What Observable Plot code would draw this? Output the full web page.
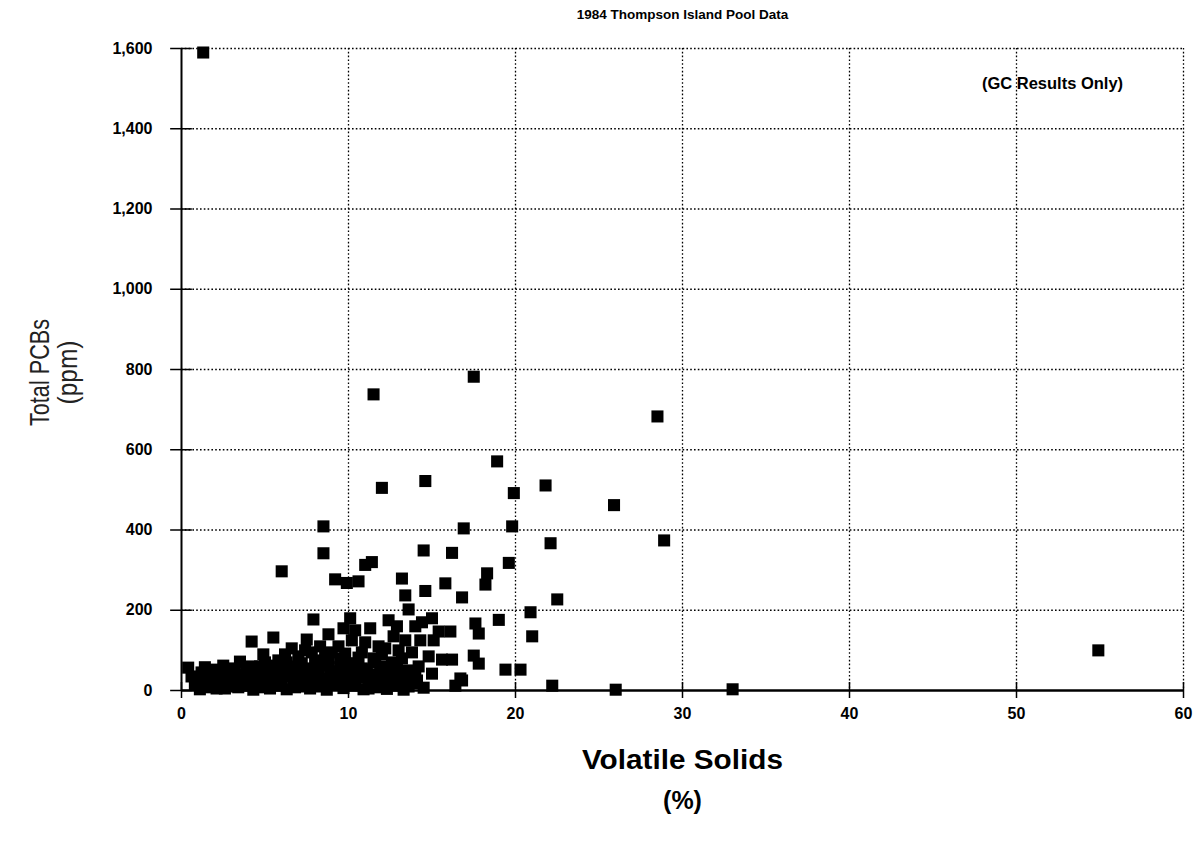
<!DOCTYPE html>
<html>
<head>
<meta charset="utf-8">
<script src="https://cdn.jsdelivr.net/npm/d3@7"></script>
<script src="https://cdn.jsdelivr.net/npm/@observablehq/plot@0.6"></script>
<style>
  html, body { margin: 0; padding: 0; background: #fff; }
</style>
</head>
<body>
<div id="chart"></div>
<script>
// Volatile solids (%) and total PCBs (ppm)
const volatileSolids = [
  1.3, 11.5, 17.5, 28.5, 18.9, 12.0, 14.6, 19.9, 21.8, 25.9, 8.5, 16.9, 19.8, 8.5, 14.5, 16.2, 22.1, 28.9, 19.6, 6.0,
  11.0, 11.4, 18.3, 13.2, 9.2, 9.9, 10.6, 15.8, 18.2, 14.6, 13.4, 16.8, 22.5, 13.6, 20.9, 19.0, 17.6, 17.8, 21.0, 19.4,
  20.3, 22.2, 26.0, 33.0, 54.9,
  7.9, 10.1, 9.7, 10.4, 10.2, 5.5, 4.2, 4.9, 7.5, 6.6, 12.4, 12.9, 14.0, 14.4, 15.0, 15.4, 16.1, 14.3, 15.1, 12.7,
  11.3, 11.8, 8.8, 8.3, 9.0, 7.0, 6.3, 10.8, 12.0, 13.0, 11.5, 8.0, 9.5, 15.6, 14.8, 17.5, 17.8, 16.2,
  0.4, 0.8, 1.1, 1.2, 1.5, 1.7, 2.0, 2.2, 2.5, 2.6, 2.8, 3.0, 3.2, 3.4, 3.6,
  3.9, 4.1, 4.3, 4.5, 4.7, 4.9, 5.1, 5.3, 5.5, 5.7, 5.9,
  6.1, 6.3, 6.5, 6.7, 6.9, 7.1, 7.3, 7.5, 7.7, 7.9,
  8.1, 8.3, 8.5, 8.7, 8.9, 9.1, 9.3, 9.5, 9.7, 9.9,
  10.1, 10.3, 10.5, 10.7, 10.9, 11.1, 11.3, 11.5, 11.7, 11.9,
  12.1, 12.3, 12.5, 12.7, 12.9, 13.1, 13.3, 13.5, 13.7, 13.9,
  14.5, 15.0, 16.4, 16.8, 16.7,
  0.6, 1.0, 1.4, 1.9, 2.3, 2.9, 3.3, 3.7, 4.0, 4.4, 4.8, 5.2, 5.6, 6.0, 6.4, 6.8, 7.2, 7.6, 8.0, 8.4,
  8.8, 9.2, 9.6, 10.0, 10.4, 10.8, 11.2, 11.6, 12.0, 12.4, 12.8, 13.2, 13.6, 14.0, 14.2,
  6.2, 7.4, 8.6, 9.4, 10.6, 11.0, 12.2, 12.6, 13.4, 13.8, 7.8, 9.8, 5.8, 5.0, 3.5,
  0.9, 1.6, 2.4, 3.1, 3.8, 4.6, 5.4, 6.6, 7.0, 8.2, 9.0, 10.2, 11.4, 12.6, 13.0,
  2.1, 2.7, 4.2, 5.0, 6.0, 7.8, 9.6, 10.9, 11.8, 13.3, 14.1, 1.8
];
const totalPCBs = [
  1590, 738, 782, 683, 571, 505, 522, 492, 511, 462, 409, 404, 409, 342, 349, 343, 367, 374, 318, 297,
  313, 320, 292, 279, 277, 268, 272, 267, 264, 248, 237, 232, 227, 202, 195, 176, 167, 142, 135, 52,
  52, 12, 2, 3, 100,
  177, 180, 155, 150, 125, 132, 122, 90, 127, 105, 175, 160, 160, 170, 180, 147, 147, 125, 125, 135,
  155, 110, 140, 110, 95, 85, 70, 95, 90, 100, 80, 75, 80, 77, 85, 87, 67, 77,
  57, 15, 3, 45, 25, 8, 35, 15, 62, 5, 42, 22, 55, 8, 30,
  48, 12, 2, 35, 60, 20, 45, 5, 28, 52, 12,
  38, 3, 60, 22, 45, 10, 30, 55, 5, 40,
  18, 62, 30, 2, 48, 14, 35, 58, 6, 25,
  45, 12, 65, 32, 3, 52, 20, 40, 8, 60,
  28, 4, 45, 15, 65, 35, 2, 50, 32, 18,
  7, 42, 12, 25, 30,
  35, 28, 58, 52, 45, 10, 38, 15, 28, 50, 8, 62, 40, 18, 48, 8, 68, 20, 50, 10,
  72, 28, 45, 68, 30, 55, 5, 70, 48, 22, 52, 80, 10, 40, 60,
  90, 100, 85, 110, 82, 120, 105, 70, 125, 95, 95, 92, 75, 70, 72,
  18, 40, 28, 48, 22, 18, 25, 35, 15, 35, 42, 22, 30, 30, 12,
  5, 30, 60, 38, 60, 28, 18, 42, 25, 20, 25, 20
];
const xTicks = [0, 10, 20, 30, 40, 50, 60];
const yTicks = [0, 200, 400, 600, 800, 1000, 1200, 1400, 1600];

const title = "1984 Thompson Island Pool Data";
const note = "(GC Results Only)";
const xLabel = ["Volatile Solids", "(%)"];
const yLabel = ["Total PCBs", "(ppm)"];

const data = volatileSolids.map((v, i) => ({vs: v, pcb: totalPCBs[i]}));
const fmt = d3.format(",");
const dotted = {stroke: "black", strokeOpacity: 1, strokeWidth: 1.3, strokeDasharray: "1.6,2.2"};

const chart = Plot.plot({
  width: 1198,
  height: 844,
  marginLeft: 181,
  marginRight: 15,
  marginTop: 48,
  marginBottom: 154,
  x: {domain: [0, 60]},
  y: {domain: [0, 1600]},
  style: {fontFamily: "'Liberation Sans', Arial, sans-serif", background: "white", color: "black", overflow: "visible"},
  marks: [
    Plot.gridX(xTicks.filter(d => d > 0), dotted),
    Plot.gridY(yTicks.filter(d => d > 0), dotted),
    Plot.ruleY([0], {stroke: "black", strokeWidth: 2.6}),
    Plot.ruleX([0], {stroke: "black", strokeWidth: 2}),
    Plot.ruleX(xTicks, {x: d => d, y1: -20, y2: 20, stroke: "black", strokeWidth: 1.5}),
    Plot.ruleY(yTicks, {y: d => d, x1: -0.65, x2: 0.65, stroke: "black", strokeWidth: 1.5}),
    Plot.axisX(xTicks, {tickSize: 0, tickPadding: 17, fontSize: 16, fontWeight: "bold", label: null}),
    Plot.axisY(yTicks, {tickSize: 0, tickPadding: 29, fontSize: 16, fontWeight: "bold", tickFormat: fmt, label: null}),
    Plot.dot(data, {x: "vs", y: "pcb", symbol: "square", r: 6.8, fill: "black", stroke: "none"}),
    Plot.text([title], {frameAnchor: "top", dy: -34, fontSize: 13.5, fontWeight: "bold", lineAnchor: "middle"}),
    Plot.text([note], {frameAnchor: "top-right", textAnchor: "middle", dx: -131, dy: 35, fontSize: 16.5, fontWeight: "bold", lineAnchor: "middle"}),
    Plot.text([xLabel[0]], {frameAnchor: "bottom", dy: 70, fontSize: 28, fontWeight: "bold", lineAnchor: "middle", className: "xlab0"}),
    Plot.text([xLabel[1]], {frameAnchor: "bottom", dy: 110, fontSize: 25, fontWeight: "bold", lineAnchor: "middle"}),
    Plot.text([yLabel[0]], {frameAnchor: "left", textAnchor: "middle", dx: -141, dy: 3, rotate: -90, fontSize: 28, fill: "#222", lineAnchor: "middle", className: "ylab0"}),
    Plot.text([yLabel[1]], {frameAnchor: "left", textAnchor: "middle", dx: -113, dy: 3, rotate: -90, fontSize: 28, fill: "#222", lineAnchor: "middle", className: "ylab1"})
  ]
});
// condense the axis titles to the narrow face used in the original
d3.select(chart).selectAll(".ylab0 text").attr("textLength", 107).attr("lengthAdjust", "spacingAndGlyphs");
d3.select(chart).selectAll(".ylab1 text").attr("textLength", 64).attr("lengthAdjust", "spacingAndGlyphs");
d3.select(chart).selectAll(".xlab0 text").attr("textLength", 201).attr("lengthAdjust", "spacingAndGlyphs");
document.getElementById("chart").appendChild(chart);
</script>
</body>
</html>
